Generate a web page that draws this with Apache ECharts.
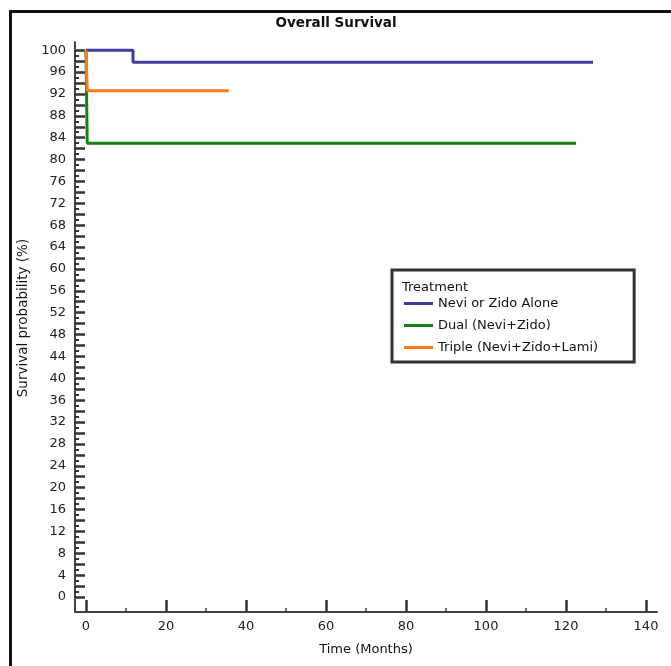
<!DOCTYPE html>
<html>
<head>
<meta charset="utf-8">
<script src="https://cdn.jsdelivr.net/npm/echarts@6/dist/echarts.min.js"></script>
<style>
  html, body { margin: 0; padding: 0; background: #fff; }
  #chart { width: 671px; height: 666px; }
</style>
</head>
<body>
<div id="chart"></div>
<script>
// Kaplan-Meier steps (time in months, survival in %)
const treatments = ['Nevi or Zido Alone', 'Dual (Nevi+Zido)', 'Triple (Nevi+Zido+Lami)'];
const aloneTime = [0, 11.75, 126.75];
const aloneSurv = [100, 97.8, 97.8];
const dualTime = [0, 0.3, 122.5];
const dualSurv = [100, 83, 83];
const tripleTime = [0, 0.3, 35.7];
const tripleSurv = [100, 92.6, 92.6];

// tick values
const yLabelVals = [0, 4, 8, 12, 16, 20, 24, 28, 32, 36, 40, 44, 48, 52, 56, 60, 64, 68, 72, 76, 80, 84, 88, 92, 96, 100];
const yMajorTicks = [0, 2, 4, 6, 8, 10, 12, 14, 16, 18, 20, 22, 24, 26, 28, 30, 32, 34, 36, 38, 40, 42, 44, 46, 48, 50,
  52, 54, 56, 58, 60, 62, 64, 66, 68, 70, 72, 74, 76, 78, 80, 82, 84, 86, 88, 90, 92, 94, 96, 98, 100];
const yMinorTicks = [1, 3, 5, 7, 9, 11, 13, 15, 17, 19, 21, 23, 25, 27, 29, 31, 33, 35, 37, 39, 41, 43, 45, 47, 49,
  51, 53, 55, 57, 59, 61, 63, 65, 67, 69, 71, 73, 75, 77, 79, 81, 83, 85, 87, 89, 91, 93, 95, 97, 99];
const xMajorTicks = [0, 20, 40, 60, 80, 100, 120, 140];
const xMinorTicks = [10, 30, 50, 70, 90, 110, 130];

const colors = ['#3c3ca2', '#128012', '#ff7b14'];
const font = 'DejaVu Sans';

function pairs(t, s) {
  return t.map((v, i) => [v, s[i]]);
}

const xMin = -2.75, xMax = 142.75;
const yMin = -2.74, yMax = 101.5;

const chart = echarts.init(document.getElementById('chart'));

const option = {
  animation: false,
  backgroundColor: '#fff',
  title: [
    {
      text: 'Overall Survival',
      left: 331,
      top: 11,
      textAlign: 'center',
      textStyle: { fontFamily: font, fontSize: 13.5, fontWeight: 'bold', color: '#111' }
    },
    {
      text: 'Treatment',
      left: 397,
      top: 276,
      textStyle: { fontFamily: font, fontSize: 13, fontWeight: 'normal', color: '#111' }
    }
  ],
  legend: {
    orient: 'vertical',
    left: 392,
    top: 270,
    padding: [27, 36, 8, 12],
    icon: 'rect',
    itemWidth: 29,
    itemHeight: 3,
    itemGap: 9,
    borderColor: '#333',
    borderWidth: 3,
    textStyle: { fontFamily: font, fontSize: 13, color: '#111' },
    data: treatments
  },
  grid: { left: 75, top: 42, right: 14, bottom: 54, containLabel: false },
  xAxis: [
    {
      type: 'value',
      min: xMin,
      max: xMax,
      name: 'Time (Months)',
      nameLocation: 'middle',
      nameGap: 31,
      nameTextStyle: { fontFamily: font, fontSize: 13, color: '#111' },
      axisLine: { onZero: false, lineStyle: { color: '#444', width: 2 } },
      axisTick: { inside: true, length: 12, customValues: xMajorTicks, lineStyle: { color: '#333', width: 2.5 } },
      axisLabel: { customValues: xMajorTicks, fontFamily: font, fontSize: 13, color: '#222', margin: 8 },
      splitLine: { show: false }
    },
    {
      type: 'value',
      position: 'bottom',
      min: xMin,
      max: xMax,
      axisLine: { show: false, onZero: false },
      axisTick: { inside: true, length: 4, customValues: xMinorTicks, lineStyle: { color: '#333', width: 1.5 } },
      axisLabel: { show: false },
      splitLine: { show: false }
    }
  ],
  yAxis: [
    {
      type: 'value',
      min: yMin,
      max: yMax,
      name: 'Survival probability (%)',
      nameLocation: 'middle',
      nameGap: 35,
      nameTextStyle: { fontFamily: font, fontSize: 13.5, color: '#111', padding: [0, 0, 0, 18] },
      axisLine: { show: true, onZero: false, lineStyle: { color: '#444', width: 2 } },
      axisTick: { show: true, inside: true, length: 10, customValues: yMajorTicks, lineStyle: { color: '#333', width: 2.5 } },
      axisLabel: { customValues: yLabelVals, fontFamily: font, fontSize: 13, color: '#222', margin: 9 },
      splitLine: { show: false }
    },
    {
      type: 'value',
      position: 'left',
      min: yMin,
      max: yMax,
      axisLine: { show: false, onZero: false },
      axisTick: { show: true, inside: true, length: 4, customValues: yMinorTicks, lineStyle: { color: '#333', width: 2 } },
      axisLabel: { show: false },
      splitLine: { show: false }
    }
  ],
  graphic: [
    {
      type: 'rect',
      left: 8,
      top: 9,
      shape: { x: 0, y: 0, width: 700, height: 700 },
      style: { fill: 'none', stroke: '#111', lineWidth: 3 },
      silent: true
    }
  ],
  series: [
    {
      name: treatments[0],
      type: 'line',
      step: 'end',
      symbol: 'none',
      data: pairs(aloneTime, aloneSurv),
      lineStyle: { color: colors[0], width: 3 },
      itemStyle: { color: colors[0] }
    },
    {
      name: treatments[1],
      type: 'line',
      step: 'end',
      symbol: 'none',
      data: pairs(dualTime, dualSurv),
      lineStyle: { color: colors[1], width: 3 },
      itemStyle: { color: colors[1] }
    },
    {
      name: treatments[2],
      type: 'line',
      step: 'end',
      symbol: 'none',
      data: pairs(tripleTime, tripleSurv),
      lineStyle: { color: colors[2], width: 3 },
      itemStyle: { color: colors[2] }
    }
  ]
};

chart.setOption(option);
</script>
</body>
</html>
